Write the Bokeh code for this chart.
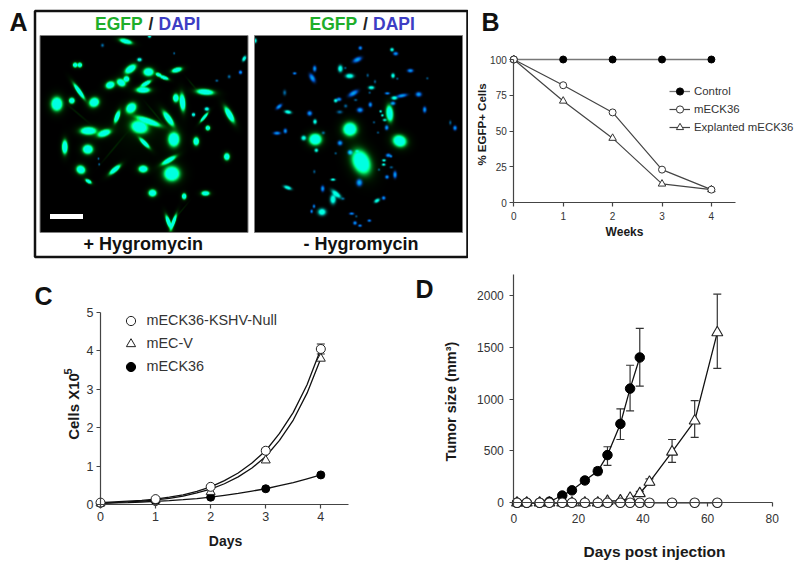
import numpy as np
from bokeh.embed import file_html
from bokeh.resources import INLINE
from bokeh.plotting import figure
from bokeh.layouts import column, row
from bokeh.models import (Range1d, FixedTicker, Label, Legend, LegendItem, Whisker,
                          TeeHead, ColumnDataSource)

# ---------- Panel A: cell blobs read from the micrographs (crop px, 3x zoom)
# (x, y, half-length, half-width, angle deg, kind)
cells_left = [
 (262,22,11,4,15,'g'),(333,6,3,3,0,'c'),(192,34,3,3,0,'d'),(110,93,4,4,0,'g'),(124,93,4,4,0,'g'),
 (276,105,11,6,-35,'g'),(303,77,4,3,0,'c'),(330,114,9,7,0,'g'),(415,108,9,4,-15,'g'),(377,131,8,3,20,'g'),
 (360,122,5,3,20,'g'),(264,135,5,5,0,'g'),(248,146,8,6,30,'g'),(215,153,8,6,-20,'g'),(322,149,10,3.5,-30,'g'),
 (314,168,12,5,0,'g'),(122,172,16,3.5,55,'g'),(500,174,15,5,5,'g'),(460,150,16,2,50,'h'),(55,210,10,12,0,'g'),
 (100,200,5,5,0,'g'),(167,205,9,8,-30,'g'),(432,205,15,5,85,'g'),(412,192,7,5,90,'g'),(278,222,10,8,-45,'g'),
 (236,248,11,4,-70,'g'),(390,254,15,5,55,'g'),(330,262,22,5,20,'g'),(573,242,15,5,60,'g'),(505,225,4,3,0,'c'),
 (465,242,3,3,0,'c'),(497,250,10,2.5,-50,'g'),(303,279,15,11,15,'g'),(150,291,14,7,0,'g'),(197,298,12,6,-20,'g'),
 (406,317,10,13,0,'g'),(318,328,12,3.5,45,'g'),(473,323,5,7,0,'g'),(508,282,4,4,0,'g'),(79,340,12,5,90,'g'),
 (148,347,9,8,0,'g'),(180,375,2,2,0,'d'),(182,392,2,2,0,'d'),(391,380,14,4,-30,'g'),(565,369,5,6,0,'g'),
 (127,408,8,7,30,'g'),(229,408,12,4,-40,'g'),(314,406,8,6,0,'g'),(400,420,14,13,0,'g'),(150,443,6,3,30,'g'),
 (342,478,7,6,0,'g'),(501,479,7,4,0,'g'),(437,488,4,5,0,'g'),(390,565,12,3.5,70,'g'),(405,565,14,3,-70,'g'),
 (430,530,22,1.5,-50,'h'),(617,74,5,3,-60,'c'),(606,115,3,3,0,'b'),(572,128,3,3,0,'d'),(535,140,3,2,0,'d'),
 (407,58,2,2,0,'d'),(300,290,80,60,0,'w'),(120,240,30,2,40,'h'),(350,240,30,2,50,'h'),(225,345,40,2,-50,'h'),
]
cells_right = [
 (6,20,3,4,0,'c'),(322,42,3,3,0,'b'),(417,47,3,3,0,'c'),(428,59,4,3,0,'b'),(313,77,8,4,-25,'b'),(185,104,5,3,90,'b'),
 (262,104,6,4,90,'c'),(277,102,2,2,0,'d'),(125,118,3,2,0,'b'),(178,132,8,4,60,'b'),(290,126,7,4,0,'c'),(472,110,5,3,0,'b'),
 (344,124,3,2,90,'d'),(420,125,4,3,90,'c'),(433,134,2,2,0,'d'),(366,143,3,2,90,'d'),(523,133,2,2,0,'d'),(355,161,5,3,0,'c'),
 (350,176,2,2,0,'d'),(95,176,5,3,90,'d'),(301,178,9,4,-30,'b'),(403,178,4,2,0,'b'),(424,192,5,3,0,'c'),(447,185,9,3,-10,'b'),
 (497,181,5,4,0,'b'),(258,196,4,3,0,'b'),(248,200,3,3,0,'c'),(308,198,3,2,0,'d'),(78,218,6,3,-40,'b'),(278,216,3,3,0,'d'),
 (352,212,4,3,90,'b'),(420,208,4,3,0,'b'),(515,227,5,3,90,'b'),(105,234,6,3,10,'c'),(170,238,4,4,0,'b'),(260,234,5,3,0,'d'),
 (321,228,5,4,0,'b'),(383,232,2,2,0,'c'),(388,244,2,2,0,'c'),(410,238,14,6,85,'g'),(395,258,3,2,0,'c'),(363,265,2,2,0,'d'),
 (186,263,4,3,90,'c'),(401,281,4,3,90,'b'),(592,266,4,2,90,'d'),(606,282,4,3,90,'b'),(291,286,12,12,0,'g'),(97,291,4,3,90,'b'),
 (72,298,6,3,0,'b'),(211,297,3,3,0,'d'),(375,296,2,2,0,'d'),(152,313,4,4,0,'c'),(187,317,11,10,0,'g'),(440,322,12,10,20,'g'),
 (261,328,4,4,0,'b'),(190,350,3,3,0,'c'),(248,359,2,2,0,'d'),(291,356,4,4,0,'b'),(312,352,3,2,0,'d'),(325,385,22,15,65,'g'),
 (406,365,4,3,0,'b'),(414,368,2,2,0,'b'),(393,380,3,2,0,'c'),(392,393,3,2,0,'c'),(415,401,3,2,0,'d'),(378,408,2,2,0,'d'),
 (184,414,3,2,90,'d'),(426,423,6,3,90,'b'),(402,430,3,3,0,'b'),(240,438,4,2,0,'c'),(319,447,6,5,90,'b'),(104,462,7,3,20,'c'),
 (209,465,5,3,90,'b'),(250,481,10,4,40,'c'),(240,497,8,5,90,'c'),(270,495,3,2,0,'d'),(372,501,5,3,-30,'c'),(392,493,3,3,0,'b'),
 (183,518,3,2,90,'b'),(176,533,3,2,90,'b'),(207,535,7,6,0,'c'),(296,540,4,2,0,'b'),(310,548,2,2,0,'d'),(349,561,3,2,0,'b'),
 (306,568,3,3,0,'b'),(321,576,3,2,0,'b'),
]
kind_amps = {'g': (3.5, 3.6), 'c': (1.6, 1.7), 'b': (0.7, 1.9), 'd': (0.45, 0.8), 'h': (0.13, 0.0), 'w': (0.05, 0.0)}

# ---------- Panel B
b_weeks = [0, 1, 2, 3, 4]
b_control = [100, 100, 100, 100, 100]
b_meck36 = [100, 82, 63, 23, 9]
b_explanted = [100, 71, 45, 13, 9]

# ---------- Panel C
c_days = [0, 1, 2, 3, 4]
c_null = [0.05, 0.14, 0.46, 1.40, 4.05]
c_v = [0.03, 0.12, 0.33, 1.15, 3.80]
c_k36 = [0.03, 0.08, 0.19, 0.41, 0.77]
c_null_err = [0.02, 0.02, 0.03, 0.07, 0.13]
c_curve_t = [0, .25, .5, .75, 1, 1.25, 1.5, 1.75, 2, 2.25, 2.5, 2.75, 3, 3.25, 3.5, 3.75, 4]
c_curve_null = [.05, .07, .09, .11, .14, .19, .25, .34, .46, .62, .82, 1.08, 1.40, 1.85, 2.40, 3.12, 4.05]
c_curve_v = [.03, .05, .07, .09, .12, .16, .22, .30, .40, .54, .72, .95, 1.25, 1.67, 2.2, 2.9, 3.8]
c_curve_k36 = [.03, .04, .05, .065, .08, .10, .125, .155, .19, .24, .29, .35, .41, .49, .57, .67, .77]

# ---------- Panel D
d_k36_days = [1, 4, 8, 11, 15, 18, 22, 26, 29, 33, 36, 39]
d_k36 = [0, 0, 0, 10, 70, 120, 215, 305, 460, 760, 1100, 1400]
d_k36_low = [0, 0, 0, 0, 50, 95, 190, 270, 360, 610, 885, 1125]
d_k36_high = [0, 0, 0, 0, 90, 145, 240, 340, 540, 905, 1325, 1680]
d_tri_days = [1, 4, 8, 11, 15, 18, 22, 26, 29, 33, 36, 39, 42, 49, 56, 63]
d_tri = [0, 0, 0, 0, 0, 0, 0, 0, 15, 20, 45, 90, 200, 490, 790, 1640]
d_tri_low = [0, 0, 0, 0, 0, 0, 0, 0, 10, 15, 35, 70, 170, 390, 630, 1295]
d_tri_high = [0, 0, 0, 0, 0, 0, 0, 0, 20, 25, 55, 110, 230, 610, 985, 2010]
d_null_days = [1, 4, 8, 11, 15, 18, 22, 26, 29, 33, 36, 39, 42, 49, 56, 63]
d_null = [0] * 16

SANS = "Liberation Sans"
AXC = "#444444"
TXT = "#333333"


def panel(left, top, w, h, x0, xs, y0, ys):
    """A figure whose frame fills it; x0/y0 = page px of data 0, xs/ys = px per unit."""
    p = figure(width=w, height=h, output_backend="svg", toolbar_location=None,
               min_border=0, outline_line_color=None,
               x_range=Range1d((left - x0) / xs, (left + w - x0) / xs),
               y_range=Range1d((y0 - (top + h)) / ys, (y0 - top) / ys))
    p.grid.visible = False
    p.background_fill_color = "white"
    p.border_fill_color = "white"
    p._page = (x0, xs, y0, ys)
    return p


def style_axes(p, xticks, yticks, xb, yb, fs, xstand=3, ystand=3):
    for ax, t, b, st in ((p.xaxis[0], xticks, xb, xstand), (p.yaxis[0], yticks, yb, ystand)):
        ax.fixed_location = 0
        ax.bounds = b
        ax.ticker = FixedTicker(ticks=t)
        ax.minor_tick_line_color = None
        ax.major_tick_in = 0
        ax.major_tick_out = 4
        ax.axis_line_color = AXC
        ax.major_tick_line_color = AXC
        ax.axis_line_width = 1.2
        ax.major_tick_line_width = 1.2
        ax.major_label_text_font = SANS
        ax.major_label_text_font_size = fs
        ax.major_label_text_color = TXT
        ax.major_label_standoff = st


def lab(p, txt, px, py, size, bold=True, angle=0.0, align="center", base="middle", color="#1a1a1a"):
    x0, xs, y0, ys = p._page
    p.add_layout(Label(x=(px - x0) / xs, y=(y0 - py) / ys, text=txt, text_font=SANS,
                       text_font_size=size, text_font_style="bold" if bold else "normal",
                       angle=angle, text_align=align, text_baseline=base, text_color=color))


def micrograph(cells):
    W, H = 624, 592
    yy, xx = np.mgrid[0:H, 0:W]
    xx = xx + 5.0
    yy = yy + 5.0
    G = np.zeros((H, W))
    B = np.zeros((H, W))
    for (cx, cy, a, b, ang, kind) in cells:
        t = np.deg2rad(ang)
        dx = xx - cx
        dy = yy - cy
        u = dx * np.cos(t) + dy * np.sin(t)
        v = -dx * np.sin(t) + dy * np.cos(t)
        grow = 0.9 if kind in ('g', 'h', 'w') else 1.05
        d2 = (u / (a * grow)) ** 2 + (v / (b * grow)) ** 2
        ag, ab = kind_amps[kind]
        G += ag * np.exp(-0.5 * d2)
        if kind == 'g':
            G += 0.2 * np.exp(-0.5 * d2 / 4.0)
            B += ab * np.exp(-0.5 * d2 / 0.75)
        else:
            B += ab * np.exp(-0.5 * d2)
    img = np.zeros((H, W), dtype=np.uint32)
    v = img.view(dtype=np.uint8).reshape((H, W, 4))
    v[..., 1] = (np.clip(G, 0, 1) * 255).astype(np.uint8)
    v[..., 2] = (np.clip(B, 0, 1) * 225).astype(np.uint8)
    v[..., 3] = 255
    return img[::-1]


# ---------------------------------------------------- Panel A
pA = panel(0, 0, 468, 262, 0, 1, 564, 1)
pA.xaxis.visible = False
pA.yaxis.visible = False
pA.quad(left=[34.5], right=[467], top=[564 - 10.5], bottom=[564 - 256.5], fill_color=None,
        line_color="#111111", line_width=2.5)
for cells, xl in ((cells_left, 39.5), (cells_right, 254)):
    pA.image_rgba(image=[micrograph(cells)], x=xl, y=564 - 232, dw=208, dh=197)
    pA.quad(left=[xl], right=[xl + 208], top=[564 - 35], bottom=[564 - 232], fill_color=None,
            line_color="#808080", line_width=1)
pA.quad(left=[49.5], right=[82.5], top=[564 - 213.5], bottom=[564 - 218.5], fill_color="white", line_color=None)
for xl, dx in ((94.5, 0), (309, 0)):
    lab(pA, "EGFP", xl, 23, "17.5px", align="left", color="#1fae2a")
    lab(pA, "/", xl + 53.5, 23, "17.5px", align="left", color="#222222")
    lab(pA, "DAPI", xl + 63.5, 23, "17.5px", align="left", color="#3d3dc4")
lab(pA, "+ Hygromycin", 83, 243, "18px", align="left", color="#111111")
lab(pA, "- Hygromycin", 303, 243, "18px", align="left", color="#111111")
lab(pA, "A", 18, 21.5, "25px", color="#111111")

# ---------------------------------------------------- Panel B
pB = panel(468, 0, 328, 262, 513.3, 49.4, 202, 1.43)
style_axes(pB, b_weeks, [0, 25, 50, 75, 100], (0, 4.48), (0, 100), "10px", xstand=5)
l1 = pB.line(b_weeks, b_control, line_color="#777777", line_width=1.3)
m1 = pB.scatter(b_weeks, b_control, marker="circle", size=7, fill_color="black", line_color="black")
l3 = pB.line(b_weeks, b_explanted, line_color="#444444", line_width=1.2)
m3 = pB.scatter(b_weeks, b_explanted, marker="triangle", size=7.5, fill_color="white", line_color="#333333", line_width=1)
l2 = pB.line(b_weeks, b_meck36, line_color="#444444", line_width=1.2)
m2 = pB.scatter(b_weeks, b_meck36, marker="circle", size=7, fill_color="white", line_color="#333333", line_width=1)
legB = Legend(items=[LegendItem(label="Control", renderers=[l1, m1]),
                     LegendItem(label="mECK36", renderers=[l2, m2]),
                     LegendItem(label="Explanted mECK36", renderers=[l3, m3])],
              location=(201, 126), background_fill_alpha=0, border_line_color=None, padding=0, margin=0,
              spacing=0, glyph_width=21, glyph_height=18, label_height=18, label_standoff=4,
              label_text_font=SANS, label_text_font_size="11.4px", label_text_color=TXT)
pB.add_layout(legB)
lab(pB, "Weeks", 624, 231, "12px")
lab(pB, "% EGFP+ Cells", 481, 124, "11.5px", angle=np.pi / 2)
lab(pB, "B", 490, 21, "25px", color="#111111")

# ---------------------------------------------------- Panel C
pC = panel(0, 262, 400, 300, 100, 55.08, 504, 38.4)
style_axes(pC, c_days, [0, 1, 2, 3, 4, 5], (0, 4.5), (0, 5), "12.5px")
src = ColumnDataSource(dict(x=c_days, lo=[a - e for a, e in zip(c_null, c_null_err)],
                            hi=[a + e for a, e in zip(c_null, c_null_err)]))
pC.add_layout(Whisker(source=src, base="x", lower="lo", upper="hi", line_color="#222222", line_width=1,
                      upper_head=TeeHead(size=8, line_color="#222222"), lower_head=TeeHead(size=8, line_color="#222222")))
pC.line(c_curve_t, c_curve_k36, line_color="#111111", line_width=1.3)
k1 = pC.scatter(c_days, c_k36, marker="circle", size=8, fill_color="black", line_color="black")
pC.line(c_curve_t, c_curve_v, line_color="#111111", line_width=1.3)
k2 = pC.scatter(c_days, c_v, marker="triangle", size=9, fill_color="white", line_color="#222222", line_width=1)
pC.line(c_curve_t, c_curve_null, line_color="#111111", line_width=1.3)
k3 = pC.scatter(c_days, c_null, marker="circle", size=9, fill_color="white", line_color="#222222", line_width=1)
legC = Legend(items=[LegendItem(label="mECK36-KSHV-Null", renderers=[k3]),
                     LegendItem(label="mEC-V", renderers=[k2]),
                     LegendItem(label="mECK36", renderers=[k1])],
              location=(118.5, 184.5), background_fill_alpha=0, border_line_color=None, padding=0, margin=0,
              spacing=0, glyph_width=23, glyph_height=23, label_height=23, label_standoff=5,
              label_text_font=SANS, label_text_font_size="14.4px", label_text_color=TXT)
pC.add_layout(legC)
lab(pC, "Days", 225, 540, "14px")
lab(pC, "Cells X10", 73, 406, "15px", angle=np.pi / 2)
lab(pC, "5", 67, 371, "11px", angle=np.pi / 2)
lab(pC, "C", 43, 295, "25px", color="#111111")

# ---------------------------------------------------- Panel D
pD = panel(400, 262, 396, 300, 513.3, 3.23, 502.3, 0.1038)
style_axes(pD, [0, 20, 40, 60, 80], [0, 500, 1000, 1500, 2000], (0, 80), (0, 2200), "12px", xstand=7, ystand=6)
for xs_, lo, hi in ((d_k36_days, d_k36_low, d_k36_high), (d_tri_days, d_tri_low, d_tri_high)):
    s = ColumnDataSource(dict(x=xs_, lo=lo, hi=hi))
    pD.add_layout(Whisker(source=s, base="x", lower="lo", upper="hi", line_color="#333333", line_width=1.2,
                          upper_head=TeeHead(size=8, line_color="#333333", line_width=1.2),
                          lower_head=TeeHead(size=8, line_color="#333333", line_width=1.2)))
pD.line(d_tri_days, d_tri, line_color="#111111", line_width=1.3)
pD.scatter(d_tri_days, d_tri, marker="triangle", size=11, fill_color="white", line_color="#222222", line_width=1.1)
pD.line(d_k36_days, d_k36, line_color="#111111", line_width=1.3)
pD.scatter(d_k36_days, d_k36, marker="circle", size=9.5, fill_color="black", line_color="black")
pD.line(d_null_days, d_null, line_color="#222222", line_width=1.2)
pD.scatter(d_null_days, d_null, marker="circle", size=9.5, fill_color="white", line_color="#222222", line_width=1.1)
lab(pD, "Days post injection", 654, 551, "15.5px")
lab(pD, "Tumor size (mm\u00b3)", 450, 401, "14.5px", angle=np.pi / 2)
lab(pD, "D", 424, 288, "25px", color="#111111")

page = column(row(pA, pB, spacing=0), row(pC, pD, spacing=0), spacing=0)
open("out.html", "w").write(file_html(page, INLINE))
